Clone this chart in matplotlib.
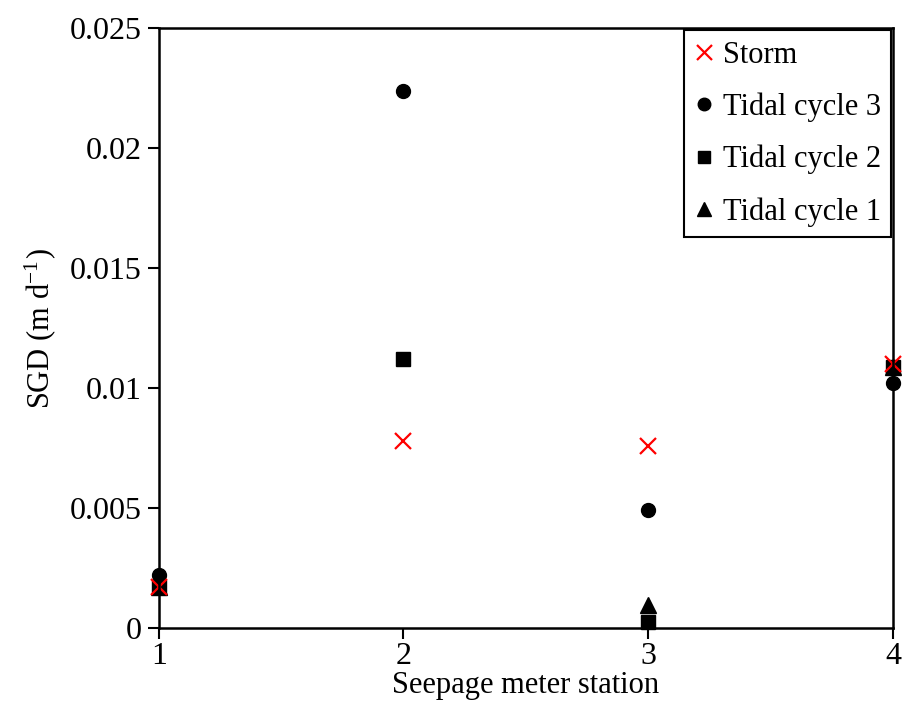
"""SGD per seepage meter station for storm and tidal cycles."""

from matplotlib import pyplot as plt
from matplotlib.ticker import FixedLocator

plt.rcParams["font.family"] = ["Liberation Serif", "DejaVu Serif"]
plt.rcParams["mathtext.fontset"] = "stix"

STATIONS = [1, 2, 3, 4]
"""Seepage meter stations."""

TIDAL_1 = [0.0017, float("nan"), 0.00095, 0.0109]
TIDAL_2 = [0.0017, 0.0112, 0.00025, 0.0109]
TIDAL_3 = [0.0022, 0.0224, 0.0049, 0.0102]
STORM = [0.0017, 0.0078, 0.0076, 0.0110]
"""SGD values [m/d]."""

Y_TICKS = [0, 0.005, 0.01, 0.015, 0.02, 0.025]
Y_TICK_LABELS = ["0", "0.005", "0.01", "0.015", "0.02", "0.025"]
FONT_SIZE = 22

fig = plt.figure(figsize=(9.02, 7.26), dpi=100)
ax = fig.add_axes([0.176, 0.135, 0.814, 0.826])

kw = dict(linestyle="none", clip_on=False)
t1, = ax.plot(STATIONS, TIDAL_1, "^", color="black", ms=11, label="Tidal cycle 1", **kw)
t2, = ax.plot(STATIONS, TIDAL_2, "s", color="black", ms=10, label="Tidal cycle 2", **kw)
t3, = ax.plot(STATIONS, TIDAL_3, "o", color="black", ms=10, label="Tidal cycle 3", **kw)
st, = ax.plot(STATIONS, STORM, "x", color="red", ms=12, mew=1.6, label="Storm", **kw)

ax.set_xlim(1, 4)
ax.set_ylim(0, 0.025)
ax.xaxis.set_major_locator(FixedLocator(STATIONS))
ax.set_yticks(Y_TICKS)
ax.set_yticklabels(Y_TICK_LABELS)
ax.tick_params(direction="out", length=8, width=1.5, labelsize=FONT_SIZE + 1, pad=4)
ax.tick_params(axis="x", pad=2)
for spine in ax.spines.values():
    spine.set_linewidth(1.8)

ax.set_xlabel("Seepage meter station", fontsize=FONT_SIZE, labelpad=0)
ax.set_ylabel(r"SGD (m d$^{\mathregular{-1}}$)", fontsize=FONT_SIZE, labelpad=8)

leg = ax.legend(handles=[st, t3, t2, t1], loc="upper right", fontsize=FONT_SIZE,
                fancybox=False, framealpha=1, edgecolor="black",
                handlelength=0.6, handletextpad=0.3, borderaxespad=0.05,
                labelspacing=0.75, borderpad=0.35, markerscale=0.9)
leg.get_frame().set_linewidth(1.5)

fig.savefig("out.png", dpi=100)
